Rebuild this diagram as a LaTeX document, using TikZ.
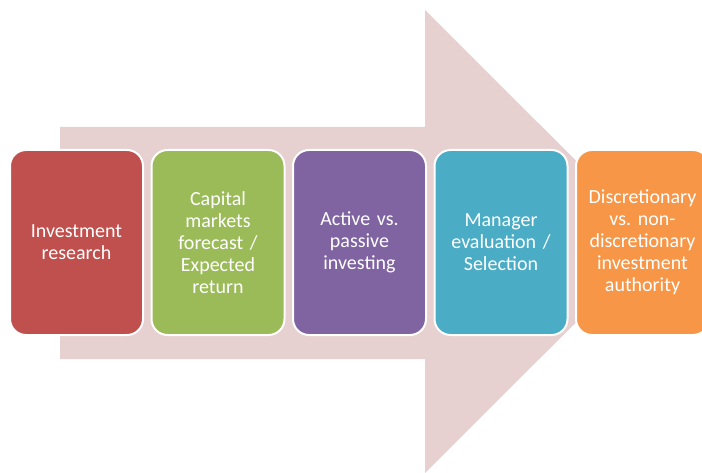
\documentclass[tikz,border=0pt]{standalone}
\usepackage{fontspec}
\setmainfont{Carlito}
\usetikzlibrary{positioning}

\definecolor{arrowpink}{HTML}{E7D0D0}
\definecolor{stepred}{HTML}{C0504D}
\definecolor{stepgreen}{HTML}{9BBB59}
\definecolor{steppurple}{HTML}{8064A2}
\definecolor{stepteal}{HTML}{4BACC6}
\definecolor{steporange}{HTML}{F79646}

\tikzset{
  stage/.style={draw=white, line width=2pt, rounded corners=16pt,
    minimum width=133pt, minimum height=185pt, text width=124pt,
    align=center, text=white, font=\fontsize{20}{22}\selectfont\frenchspacing}
}

\begin{document}
\begin{tikzpicture}[x=1pt,y=-1pt,node distance=6.5pt]
  \useasboundingbox (0,0) rectangle (702,473);
  % big background arrow
  \fill[arrowpink] (60,127) -- (425,127) -- (425,10) -- (657,241.5)
    -- (425,473) -- (425,359) -- (60,359) -- cycle;

  \node[stage, fill=stepred] (research) at (76.5,242.5) {Investment\\research};
  \node[stage, fill=stepgreen, right=of research] (forecast)
    {Capital\\markets\\forecast /\\Expected\\return};
  \node[stage, fill=steppurple, right=of forecast] (active)
    {Active vs.\\passive\\investing};
  \node[stage, fill=stepteal, right=of active] (manager)
    {Manager\\evaluation /\\Selection};
  \node[stage, fill=steporange, right=of manager] (authority)
    {Discretionary\\vs. non-\\discretionary\\investment\\authority};
\end{tikzpicture}
\end{document}
